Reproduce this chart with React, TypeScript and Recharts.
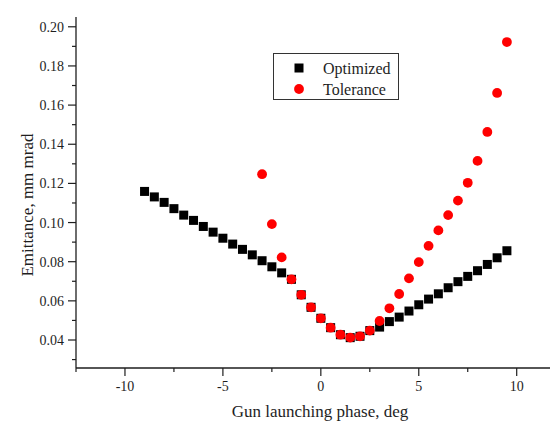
import React from "react";
import { ScatterChart, Scatter, XAxis, YAxis, Legend, Label } from "recharts";

const FONT = "'Liberation Serif', 'Times New Roman', serif";
const INK = "#1e1e1e";

// gun phase (deg)
const optPhase = [
  -9, -8.5, -8, -7.5, -7, -6.5, -6, -5.5, -5, -4.5, -4, -3.5, -3, -2.5, -2, -1.5, -1, -0.5, 0,
  0.5, 1, 1.5, 2, 2.5, 3, 3.5, 4, 4.5, 5, 5.5, 6, 6.5, 7, 7.5, 8, 8.5, 9, 9.5,
];
// emittance, mm mrad
const optEmit = [
  0.1159, 0.1131, 0.1103, 0.1071, 0.1038, 0.1011, 0.098, 0.0951, 0.092, 0.089, 0.0863, 0.0835,
  0.0805, 0.0774, 0.0743, 0.071, 0.0631, 0.0567, 0.0511, 0.0463, 0.0427, 0.0412, 0.0419, 0.0448,
  0.0466, 0.0494, 0.0517, 0.0548, 0.058, 0.0609, 0.0636, 0.0667, 0.0698, 0.0725, 0.0754, 0.0786,
  0.082, 0.0856,
];

const tolPhase = [
  -3, -2.5, -2, -1.5, -1, -0.5, 0, 0.5, 1, 1.5, 2, 2.5, 3, 3.5, 4, 4.5, 5, 5.5, 6, 6.5, 7, 7.5,
  8, 8.5, 9, 9.5,
];
const tolEmit = [
  0.1247, 0.0992, 0.0822, 0.071, 0.0631, 0.0567, 0.0511, 0.0463, 0.0427, 0.0412, 0.0419, 0.0448,
  0.0497, 0.0562, 0.0635, 0.0715, 0.0798, 0.0881, 0.096, 0.1038, 0.1112, 0.1203, 0.1315, 0.1463,
  0.1662, 0.1922,
];

const xTicks = [-12.5, -10, -7.5, -5, -2.5, 0, 2.5, 5, 7.5, 10];
const yTicks = [
  0.03, 0.04, 0.05, 0.06, 0.07, 0.08, 0.09, 0.1, 0.11, 0.12, 0.13, 0.14, 0.15, 0.16, 0.17, 0.18,
  0.19, 0.2,
];

const optimized = optPhase.map((x, i) => ({ x, y: optEmit[i] }));
const tolerance = tolPhase.map((x, i) => ({ x, y: tolEmit[i] }));

type TickProps = { x?: number; y?: number; payload?: { value?: number } };

const XTick = ({ x = 0, y = 0, payload }: TickProps) => {
  const v = Number(payload?.value ?? 0);
  const major = v % 5 === 0;
  return (
    <g>
      <line x1={x} x2={x} y1={y} y2={y + (major ? 8 : 4)} stroke={INK} strokeWidth={1.2} />
      {major && (
        <text x={x} y={y + 23} textAnchor="middle" fontSize={14} fontFamily={FONT} fill={INK}>
          {v}
        </text>
      )}
    </g>
  );
};

const YTick = ({ x = 0, y = 0, payload }: TickProps) => {
  const v = Number(payload?.value ?? 0);
  const major = Math.round(v * 100) % 2 === 0;
  return (
    <g>
      <line x1={x} x2={x - (major ? 8 : 4)} y1={y} y2={y} stroke={INK} strokeWidth={1.2} />
      {major && (
        <text x={x - 12} y={y + 5} textAnchor="end" fontSize={14} fontFamily={FONT} fill={INK}>
          {v.toFixed(2)}
        </text>
      )}
    </g>
  );
};

type DotProps = { cx?: number; cy?: number };

const SquareDot = ({ cx = 0, cy = 0 }: DotProps) => (
  <rect x={cx - 4.5} y={cy - 4.5} width={9} height={9} fill="#000" />
);

const RoundDot = ({ cx = 0, cy = 0 }: DotProps) => <circle cx={cx} cy={cy} r={4.9} fill="#ff0000" />;

const LegendBox = () => (
  <div
    style={{
      width: 124,
      height: 45,
      border: "1px solid #333",
      background: "#fff",
      fontFamily: FONT,
      fontSize: 16,
      color: INK,
      position: "relative",
    }}
  >
    <svg width={124} height={45} style={{ position: "absolute", left: 0, top: 0 }}>
      <rect x={20.5} y={9.5} width={9} height={9} fill="#000" />
      <circle cx={25} cy={35} r={4.9} fill="#ff0000" />
      <text x={49} y={19.5} fontSize={16} fontFamily={FONT} fill={INK}>
        Optimized
      </text>
      <text x={49} y={40.5} fontSize={16} fontFamily={FONT} fill={INK}>
        Tolerance
      </text>
    </svg>
  </div>
);

export default function App() {
  return (
    <div style={{ position: "absolute", left: 0, top: 0, width: 550, height: 423, background: "#fff" }}>
      <ScatterChart width={550} height={423} margin={{ top: 17, right: 0, bottom: 0, left: 0 }}>
        <XAxis
          type="number"
          dataKey="x"
          domain={[-12.5, 11.7]}
          ticks={xTicks}
          interval={0}
          allowDataOverflow
          height={55}
          tickSize={0}
          tickMargin={0}
          tickLine={false}
          axisLine={{ stroke: INK, strokeWidth: 1.3 }}
          tick={(p: TickProps) => <XTick {...p} />}
        >
          <Label
            content={() => (
              <text x={320} y={417} textAnchor="middle" fontSize={17} fontFamily={FONT} fill={INK}>
                Gun launching phase, deg
              </text>
            )}
          />
        </XAxis>
        <YAxis
          type="number"
          dataKey="y"
          domain={[0.0257, 0.205]}
          ticks={yTicks}
          interval={0}
          allowDataOverflow
          width={76}
          tickSize={0}
          tickMargin={0}
          tickLine={false}
          axisLine={{ stroke: INK, strokeWidth: 1.3 }}
          tick={(p: TickProps) => <YTick {...p} />}
        >
          <Label
            content={() => (
              <text
                x={0}
                y={0}
                transform="translate(33,205) rotate(-90)"
                textAnchor="middle"
                fontSize={17}
                fontFamily={FONT}
                fill={INK}
              >
                Emittance, mm mrad
              </text>
            )}
          />
        </YAxis>
        <Legend
          layout="horizontal"
          verticalAlign="middle"
          align="center"
          content={() => <LegendBox />}
          wrapperStyle={{ left: 273, top: 53, width: 126, height: 47 }}
        />
        <Scatter
          name="Optimized"
          data={optimized}
          shape={(p: DotProps) => <SquareDot {...p} />}
          isAnimationActive={false}
        />
        <Scatter
          name="Tolerance"
          data={tolerance}
          shape={(p: DotProps) => <RoundDot {...p} />}
          isAnimationActive={false}
        />
      </ScatterChart>
    </div>
  );
}
